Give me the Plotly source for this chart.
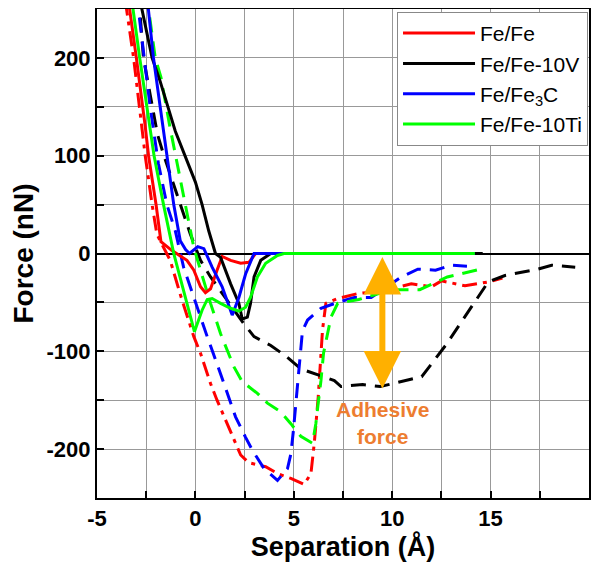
import plotly.graph_objects as go

# ---------------- data ----------------
fe_app_x = [-3.55, -3.34, -3.0, -2.55, -2.38, -2.0, -1.75, -1.19, -0.43, -0.08, 0.26, 0.51, 0.77, 1.1, 1.36, 1.79, 2.3, 2.72, 3.06, 14.2]
fe_app_y = [280, 250, 200, 130, 100, 50, 12, 3, -7, -17, -34, -40, -36, -17, -3, -7, -10, -9, 0, 0]
fe_ret_x = [-3.75, -3.5, -3.14, -2.72, -2.55, -2.2, -1.96, -1.79, -1.28, -0.72, -0.08, 0.26, 0.77, 1.1, 1.62, 1.96, 2.3, 2.72, 3.57, 4.17, 4.85, 5.53, 5.87, 6.04, 6.24, 6.46, 6.63, 7.23, 8.25, 9.6, 10.97, 12.0, 12.5, 13.7, 14.9, 15.6]
fe_ret_y = [290, 250, 200, 130, 100, 50, 20, 13, -7, -45, -85, -102, -133, -150, -175, -191, -206, -214, -218, -225, -230, -236, -225, -194, -147, -78, -51, -46, -41, -38, -31, -34, -28, -33, -29, -25]

v_app_x = [-2.95, -2.72, -2.2, -1.79, -1.02, -0.51, 0.0, 0.34, 0.68, 1.02, 1.28, 1.79, 2.21, 2.38, 2.64, 2.8, 2.98, 3.32, 3.83, 14.6]
v_app_y = [290, 250, 200, 176, 125, 100, 73, 50, 23, 0, -4, -31, -51, -67, -65, -51, -24, -7, 0, 0]
v_ret_x = [-3.05, -2.83, -2.64, -2.04, -1.93, -1.6, -0.8, -0.26, 0.26, 0.77, 2.47, 2.98, 3.83, 4.6, 5.36, 6.04, 7.06, 7.4, 8.5, 9.4, 10.46, 11.5, 12.75, 13.7, 14.88, 15.73, 16.58, 17.4, 18.1, 19.3]
v_ret_y = [290, 250, 200, 136, 122, 100, 53, 20, -7, -24, -72, -85, -94, -105, -118, -123, -130, -136, -134, -136, -131, -126, -93, -64, -29, -22.5, -19, -16, -12, -14]

c_app_x = [-2.6, -2.4, -2.13, -1.79, -1.45, -1.1, -0.77, -0.5, -0.3, 0.12, 0.43, 0.85, 1.36, 1.87, 2.21, 2.55, 2.98, 14.2]
c_app_y = [290, 250, 200, 150, 100, 50, 13, 4, 0, 7, 5, -14, -34, -63, -45, -21, 0, 0]
c_ret_x = [-3.1, -2.9, -2.3, -1.88, -1.45, -1.02, -0.6, 0.08, 0.6, 1.19, 1.79, 2.04, 2.55, 2.89, 3.49, 4.17, 4.68, 4.85, 4.98, 5.1, 5.27, 5.44, 5.7, 6.38, 7.23, 8.08, 8.93, 10.46, 11.3, 12.2, 13.0, 13.8]
c_ret_y = [290, 250, 150, 92, 50, 23, -14, -55, -85, -118, -152, -167, -188, -201, -220, -232, -220, -205, -181, -154, -116, -79, -68, -56, -50, -45, -45, -24, -16, -17, -12, -13]

ti_app_x = [-3.4, -3.17, -2.83, -2.33, -2.1, -1.62, -1.1, -0.05, 0.34, 0.6, 0.85, 1.28, 1.79, 2.21, 2.55, 2.8, 3.15, 3.57, 4.17, 4.5, 14.2]
ti_app_y = [290, 250, 200, 130, 100, 50, 0, -80, -58, -47, -46, -51, -56, -59, -55, -45, -24, -10, -2, 0, 0]
ti_ret_x = [-2.6, -2.38, -2.04, -1.75, -1.3, -1.0, -0.5, -0.08, 0.26, 0.77, 1.28, 1.53, 1.96, 2.38, 3.15, 3.66, 4.34, 4.85, 5.36, 5.95, 6.12, 6.24, 6.38, 6.51, 6.89, 7.23, 8.3, 10.0, 11.4, 12.8, 14.4, 14.7]
ti_ret_y = [290, 250, 200, 180, 130, 100, 50, 6, -17, -51, -82, -94, -116, -131, -143, -153, -162, -174, -187, -194, -174, -153, -130, -102, -65, -51, -47, -37, -37, -24, -16, -15]

series_names = ["Fe/Fe", "Fe/Fe-10V", "Fe/Fe<sub>3</sub>C", "Fe/Fe-10Ti"]
series_colors = ["#FF0000", "#000000", "#0000FF", "#00FF00"]
approach = [(fe_app_x, fe_app_y), (v_app_x, v_app_y), (c_app_x, c_app_y), (ti_app_x, ti_app_y)]
retract = [(fe_ret_x, fe_ret_y), (v_ret_x, v_ret_y), (c_ret_x, c_ret_y), (ti_ret_x, ti_ret_y)]
retract_dash = ["15px,6px,4px,6px", "15px,9px", "15px,9px", "15px,9px"]

x_ticks = [-5, 0, 5, 10, 15, 20]
x_ticktext = ["-5", "0", "5", "10", "15", "20"]
y_ticks = [-200, -100, 0, 100, 200]
y_ticktext = ["-200", "-100", "0", "100", "200"]

arrow_x = 9.5
arrow_top = -2
arrow_bottom = -138
label_y = -173

FONT = "Liberation Sans, Arial, sans-serif"

fig = go.Figure()
for (rx, ry), col, dash in zip(retract, series_colors, retract_dash):
    fig.add_trace(go.Scatter(x=rx, y=ry, mode="lines", showlegend=False,
                             line=dict(color=col, width=3, dash=dash)))
for (ax_, ay_), col, name in zip(approach, series_colors, series_names):
    fig.add_trace(go.Scatter(x=ax_, y=ay_, mode="lines", name=name,
                             line=dict(color=col, width=3)))

fig.add_annotation(x=arrow_x, y=arrow_bottom, ax=arrow_x, ay=arrow_top,
                   xref="x", yref="y", axref="x", ayref="y", text="",
                   showarrow=True, arrowhead=2, arrowside="end+start",
                   arrowsize=1.25, arrowwidth=6, arrowcolor="#FFB000")
fig.add_annotation(x=arrow_x, y=label_y, xref="x", yref="y",
                   text="Adhesive<br>force", showarrow=False,
                   font=dict(family=FONT, size=21, color="#ED7D31", weight="bold"))

axis_common = dict(showline=True, linecolor="black", linewidth=2, mirror=True,
                   ticks="inside", ticklen=7, tickwidth=1.5, tickcolor="black",
                   showgrid=True, gridcolor="#999999", gridwidth=1.3,
                   automargin=False,
                   tickfont=dict(family=FONT, size=22, color="black", weight="bold"))

fig.update_xaxes(range=[-5, 20], tickvals=x_ticks, ticktext=x_ticktext, **axis_common,
                 minor=dict(dtick=2.5, tick0=-5, ticks="inside", ticklen=7,
                            showgrid=True, gridcolor="#999999", gridwidth=1.3),
                 zeroline=False,
                 title=dict(text="Separation (Å)", standoff=6,
                            font=dict(family=FONT, size=27, color="black", weight="bold")))
fig.update_yaxes(range=[-250, 250], tickvals=y_ticks, ticktext=y_ticktext, **axis_common,
                 minor=dict(dtick=50, tick0=0, ticks="inside", ticklen=7,
                            showgrid=True, gridcolor="#999999", gridwidth=1.3),
                 zeroline=True, zerolinecolor="black", zerolinewidth=2,
                 title=dict(text="Force (nN)", standoff=6,
                            font=dict(family=FONT, size=28, color="black", weight="bold")))

fig.update_layout(
    width=584, height=555,
    margin=dict(l=89, r=3, t=1, b=65),
    paper_bgcolor="white", plot_bgcolor="white",
    legend=dict(x=0.998, y=0.994, xanchor="right", yanchor="top",
                bgcolor="white", bordercolor="#888888", borderwidth=1,
                font=dict(family=FONT, size=21, color="black"),
                itemwidth=72, tracegroupgap=0),
)

fig.write_html("out.html")
